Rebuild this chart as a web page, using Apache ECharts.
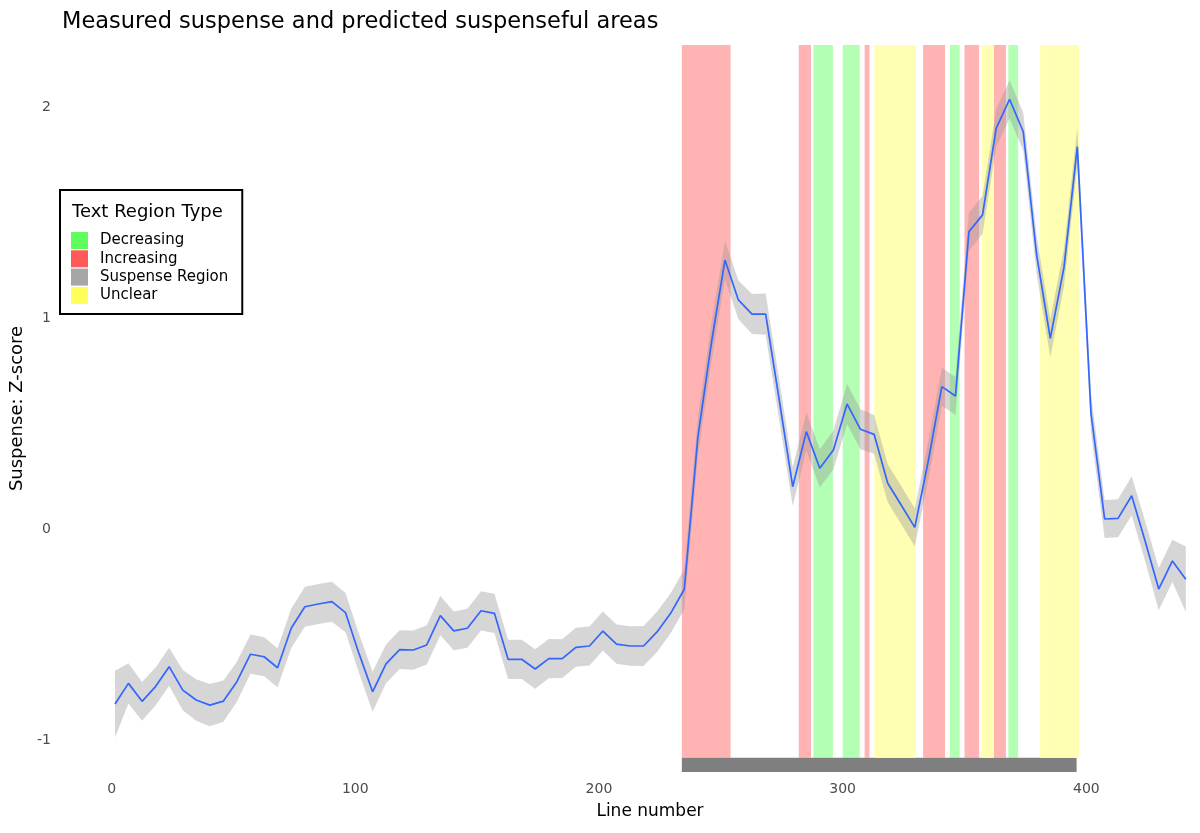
<!DOCTYPE html>
<html>
<head>
<meta charset="utf-8">
<script src="https://cdn.jsdelivr.net/npm/echarts@6/dist/echarts.min.js"></script>
<style>html,body{margin:0;padding:0;background:#fff}#c{width:1200px;height:833px}</style>
</head>
<body>
<div id="c"></div>
<script>
const lineNumbers = [1.4, 6.9, 12.5, 18.1, 23.6, 29.2, 34.7, 40.3, 45.9, 51.4,
  57.0, 62.6, 68.1, 73.7, 79.3, 84.8, 90.4, 96.0, 101.5, 107.1,
  112.6, 118.2, 123.8, 129.3, 134.9, 140.4, 146.0, 151.6, 157.1, 162.7,
  168.3, 173.8, 179.4, 184.9, 190.5, 196.1, 201.6, 207.2, 212.8, 218.3,
  223.9, 229.4, 235.0, 240.6, 246.1, 251.7, 257.2, 262.8, 268.4, 273.9,
  279.5, 285.1, 290.6, 296.2, 301.8, 307.3, 312.9, 318.5, 324.0, 329.6,
  335.2, 340.7, 346.3, 351.8, 357.4, 363.0, 368.5, 374.1, 379.6, 385.2,
  390.8, 396.3, 401.9, 407.5, 413.0, 418.6, 424.2, 429.7, 435.3, 440.8];
const suspense = [-0.828, -0.730, -0.815, -0.744, -0.651, -0.762, -0.809, -0.833, -0.814, -0.722,
  -0.592, -0.604, -0.656, -0.469, -0.367, -0.354, -0.343, -0.395, -0.588, -0.770,
  -0.638, -0.570, -0.572, -0.548, -0.409, -0.481, -0.469, -0.386, -0.398, -0.616,
  -0.616, -0.662, -0.613, -0.613, -0.559, -0.553, -0.482, -0.544, -0.553, -0.553,
  -0.485, -0.398, -0.284, 0.439, 0.881, 1.276, 1.087, 1.020, 1.020, 0.618,
  0.202, 0.463, 0.289, 0.376, 0.594, 0.474, 0.450, 0.218, 0.115, 0.009,
  0.328, 0.676, 0.632, 1.410, 1.490, 1.900, 2.038, 1.884, 1.300, 0.905,
  1.240, 1.813, 0.550, 0.049, 0.052, 0.159, -0.059, -0.283, -0.150, -0.237];
const stdErr = [0.158, 0.095, 0.092, 0.090, 0.090, 0.095, 0.098, 0.100, 0.098, 0.095,
  0.093, 0.092, 0.092, 0.093, 0.095, 0.095, 0.095, 0.093, 0.092, 0.095,
  0.092, 0.092, 0.093, 0.093, 0.093, 0.092, 0.092, 0.093, 0.093, 0.093,
  0.093, 0.094, 0.093, 0.092, 0.092, 0.092, 0.092, 0.093, 0.094, 0.095,
  0.095, 0.095, 0.095, 0.093, 0.092, 0.092, 0.092, 0.095, 0.098, 0.095,
  0.092, 0.090, 0.090, 0.092, 0.095, 0.095, 0.092, 0.090, 0.090, 0.090,
  0.090, 0.090, 0.090, 0.090, 0.090, 0.090, 0.090, 0.090, 0.090, 0.090,
  0.090, 0.090, 0.090, 0.090, 0.090, 0.092, 0.095, 0.100, 0.100, 0.155];

const decreasingRegions = [[288, 296], [300, 307], [344, 348], [368, 372]];
const increasingRegions = [[234, 254], [282, 287], [309, 311], [333, 342], [350, 356], [362, 367]];
const unclearRegions = [[313, 330], [357, 362], [381, 397]];
const suspenseRegions = [[234, 396]];

const xTicks = [0, 100, 200, 300, 400];
const yTicks = [-1, 0, 1, 2];

const legendNames = ['Decreasing', 'Increasing', 'Suspense Region', 'Unclear'];

const FONT = 'DejaVu Sans';
const Y_MIN = -1.15, Y_MAX = 2.295, BAND_LOW = -1.083;

function bandSeries(name, regions, fill, yLow, yHigh) {
  return {
    type: 'custom', name: name, silent: true, z: 1,
    itemStyle: { color: fill },
    data: regions.map(r => [r[0], r[1]]),
    encode: { x: [0, 1] },
    renderItem: function (params, api) {
      const p0 = api.coord([api.value(0), yHigh]);
      const p1 = api.coord([api.value(1), yLow]);
      return { type: 'rect', shape: { x: p0[0], y: p0[1], width: p1[0] - p0[0], height: p1[1] - p0[1] },
        style: { fill: fill } };
    }
  };
}

const chart = echarts.init(document.getElementById('c'), null, { renderer: 'canvas' });
chart.setOption({
  animation: false,
  backgroundColor: '#ffffff',
  title: {
    text: 'Measured suspense and predicted suspenseful areas',
    left: 57, top: 6, padding: 5,
    textStyle: { fontFamily: FONT, fontSize: 22.5, fontWeight: 'normal', color: '#000' }
  },
  grid: { left: 58, right: 13, top: 45, bottom: 61, containLabel: false },
  xAxis: {
    type: 'value', min: -22, max: 441.3,
    name: 'Line number', nameLocation: 'middle', nameGap: 31,
    nameTextStyle: { fontFamily: FONT, fontSize: 17, color: '#000', padding: [0, 0, 0, 55] },
    axisLine: { show: false }, axisTick: { show: false }, splitLine: { show: false },
    axisLabel: { customValues: xTicks, margin: 10, fontFamily: FONT, fontSize: 14, color: '#4D4D4D' }
  },
  yAxis: {
    type: 'value', min: Y_MIN, max: Y_MAX,
    name: 'Suspense: Z-score', nameLocation: 'middle', nameGap: 24,
    nameTextStyle: { fontFamily: FONT, fontSize: 18, color: '#000' },
    axisLine: { show: false }, axisTick: { show: false }, splitLine: { show: false },
    axisLabel: { customValues: yTicks, margin: 7, padding: [4, 0, 0, 0], fontFamily: FONT, fontSize: 14, color: '#4D4D4D' }
  },
  legend: {
    orient: 'vertical', left: 60, top: 190,
    data: [
      { name: legendNames[0], itemStyle: { color: '#5CFF5C' } },
      { name: legendNames[1], itemStyle: { color: '#FF5A5A' } },
      { name: legendNames[2], itemStyle: { color: '#A6A6A6' } },
      { name: legendNames[3], itemStyle: { color: '#FFFF5C' } }
    ],
    icon: 'rect', itemWidth: 17, itemHeight: 17, itemGap: 1.3,
    padding: [42, 14, 10, 11],
    borderColor: '#000', borderWidth: 2, backgroundColor: '#fff',
    selectedMode: false,
    textStyle: { fontFamily: FONT, fontSize: 15, color: '#000', padding: [0, 0, 0, 7] }
  },
  graphic: [{
    type: 'text', left: 72, top: 203, z: 100,
    style: { text: 'Text Region Type', fontFamily: FONT, fontSize: 18, fill: '#000' }
  }],
  series: [
    bandSeries(legendNames[0], decreasingRegions, '#B3FFB3', BAND_LOW, Y_MAX),
    bandSeries(legendNames[1], increasingRegions, '#FFB3B3', BAND_LOW, Y_MAX),
    bandSeries(legendNames[2], suspenseRegions, '#7F7F7F', Y_MIN, BAND_LOW),
    bandSeries(legendNames[3], unclearRegions, '#FFFFB3', BAND_LOW, Y_MAX),
    {
      type: 'custom', name: 'ribbon', silent: true, z: 3,
      data: lineNumbers.map((x, i) => [x, suspense[i] - stdErr[i], suspense[i] + stdErr[i]]),
      encode: { x: 0, y: [1, 2] },
      renderItem: function (params, api) {
        if (params.dataIndex !== 0) return null;
        const upper = [], lower = [];
        for (let i = 0; i < lineNumbers.length; i++) {
          upper.push(api.coord([lineNumbers[i], suspense[i] + stdErr[i]]));
          lower.push(api.coord([lineNumbers[i], suspense[i] - stdErr[i]]));
        }
        return { type: 'polygon', shape: { points: upper.concat(lower.reverse()) },
          style: { fill: 'rgba(153,153,153,0.4)' } };
      }
    },
    {
      type: 'line', name: 'suspense', z: 5, silent: true,
      data: lineNumbers.map((x, i) => [x, suspense[i]]),
      showSymbol: false, symbol: 'none',
      lineStyle: { color: '#3366FF', width: 1.7 }
    }
  ]
});
</script>
</body>
</html>
